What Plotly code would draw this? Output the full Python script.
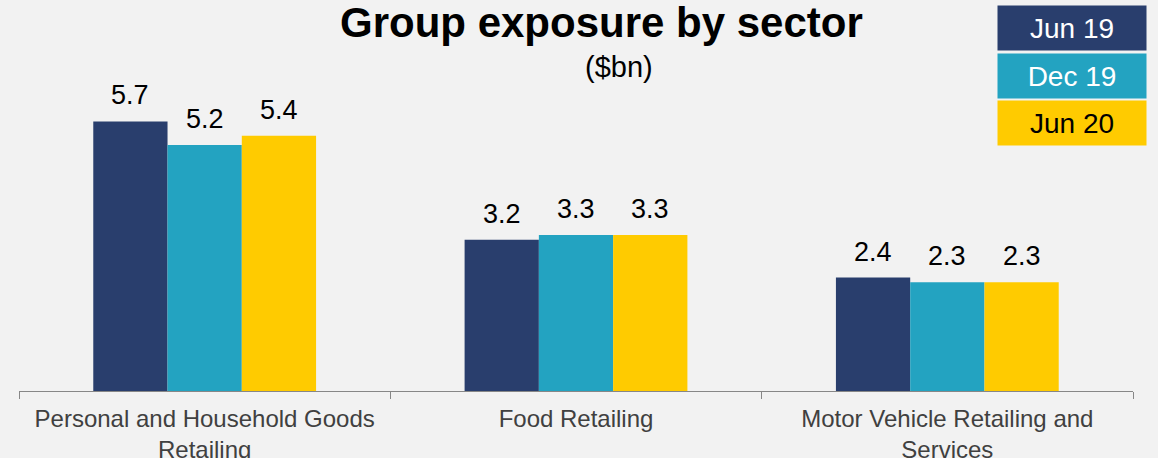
import plotly.graph_objects as go

categories = ["Personal and Household Goods<br>Retailing", "Food Retailing", "Motor Vehicle Retailing and<br>Services"]
series_names = ["Jun 19", "Dec 19", "Jun 20"]
jun19 = [5.7, 3.2, 2.4]
dec19 = [5.2, 3.3, 2.3]
jun20 = [5.4, 3.3, 2.3]
series_values = [jun19, dec19, jun20]
colors = ["#293E6D", "#23A3C1", "#FFCB00"]
legend_font_colors = ["white", "white", "black"]

FONT = "Liberation Sans, Arial"
W, H = 1158, 458
ml, mr, mt, mb = 19, 25, 60, 67
pw = W - ml - mr
ph = H - mt - mb
bargap = 0.4
bar_px = pw / len(categories) * (1 - bargap) / len(series_names)

fig = go.Figure()
for name, vals, col in zip(series_names, series_values, colors):
    fig.add_trace(go.Bar(
        x=categories, y=vals, name=name,
        marker=dict(color=col, line=dict(width=0)),
    ))

# value labels above bars
n = len(series_names)
for si, (vals) in enumerate(series_values):
    offset = (si - (n - 1) / 2) * bar_px
    for cat, v in zip(categories, vals):
        fig.add_annotation(x=cat, y=v, xref="x", yref="y", text=f"{v:.1f}",
                           showarrow=False, xshift=offset, yshift=26,
                           xanchor="center", yanchor="middle",
                           font=dict(family=FONT, size=27, color="black"))

fig.update_layout(
    width=W, height=H,
    margin=dict(l=ml, r=mr, t=mt, b=mb, autoexpand=False),
    paper_bgcolor="#F2F2F2", plot_bgcolor="#F2F2F2",
    barmode="group", bargap=bargap, bargroupgap=0,
    showlegend=False,
    font=dict(family=FONT),
    xaxis=dict(
        range=[-0.5, 2.5], showline=True, linecolor="#878787", linewidth=1.2,
        ticks="outside", tickson="boundaries", ticklen=7, tickcolor="#878787",
        tickfont=dict(size=24, color="#404040"), showgrid=False, automargin=False,
        ticklabelstandoff=6,
    ),
    yaxis=dict(range=[0, 7.0], visible=False, showgrid=False, zeroline=False, automargin=False),
)

def px_x(x):
    return (x - ml) / pw
def px_y(y):
    return (H - mb - y) / ph

fig.add_annotation(text="<b>Group exposure by sector</b>", x=px_x(601), y=px_y(22),
                   xref="paper", yref="paper", showarrow=False,
                   font=dict(size=42, color="black"), xanchor="center", yanchor="middle")
fig.add_annotation(text="($bn)", x=px_x(619), y=px_y(67),
                   xref="paper", yref="paper", showarrow=False,
                   font=dict(size=29, color="black"), xanchor="center", yanchor="middle")

box_centers = [28, 76, 123]
for name, col, fc, cy in zip(series_names, colors, legend_font_colors, box_centers):
    fig.add_annotation(text=name, x=px_x(1072), y=px_y(cy),
                       xref="paper", yref="paper", showarrow=False,
                       width=146, height=42, bgcolor=col, borderpad=1,
                       font=dict(size=28, color=fc), xanchor="center", yanchor="middle")

fig.write_html("out.html", config={"displayModeBar": False},
               post_script="document.body.style.margin='0';")
